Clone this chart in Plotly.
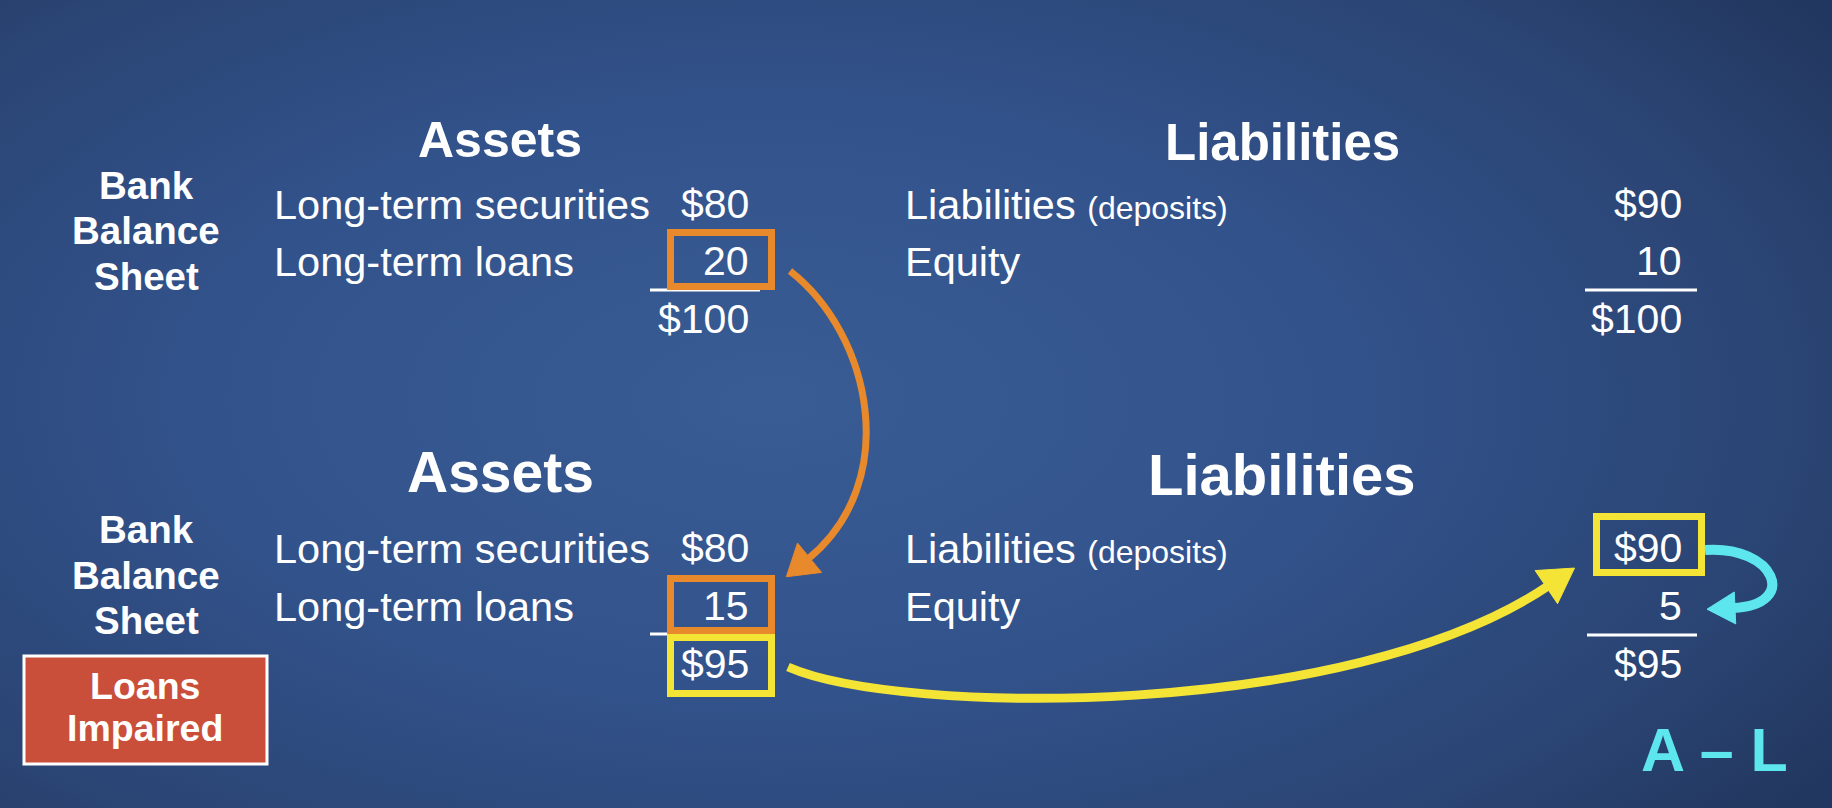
"""Bank balance sheet before/after loan impairment, drawn as a Plotly slide."""

import plotly.graph_objects as go

W, H = 1832, 808
FONT = "Liberation Sans, Arial, sans-serif"

# --- values ---
side_label = ["Bank", "Balance", "Sheet"]
asset_items = ["Long-term securities", "Long-term loans"]
liab_items = ["Liabilities", "Equity"]
liab_note = "(deposits)"

before_assets = ["$80", "20"]
before_assets_total = "$100"
before_liabs = ["$90", "10"]
before_liabs_total = "$100"

after_assets = ["$80", "15"]
after_assets_total = "$95"
after_liabs = ["$90", "5"]
after_liabs_total = "$95"

event_label = ["Loans", "Impaired"]
identity_label = "A \u2013 L"

ORANGE = "#E8892C"
YELLOW = "#F4E435"
CYAN = "#5EE6EE"
RED = "#C94F3A"

fig = go.Figure()

# background: soft radial navy gradient
fig.add_trace(go.Scatter(
    x=[-520, 2060, 2060, -520, -520], y=[-260, -260, 1060, 1060, -260],
    mode="none", fill="toself", hoverinfo="skip", showlegend=False,
    fillgradient=dict(type="radial",
                      colorscale=[[0, "#395C94"], [0.45, "#32528B"], [0.8, "#2A4473"], [1, "#22375F"]]),
))

ann = []


def txt(x, y, s, size, anchor="left", bold=False, color="white"):
    ann.append(dict(x=x, y=y, xref="x", yref="y", text="<b>%s</b>" % s if bold else s,
                    showarrow=False, xanchor=anchor, yanchor="middle",
                    font=dict(family=FONT, size=size, color=color)))


def block(top, title_sz, label_ys, row_ys, assets, a_total, liabs, l_total):
    txt(500, top, "Assets", title_sz, "center", bold=True)
    txt(1282, top + 2, "Liabilities", title_sz + 1, "center", bold=True)
    for y, s in zip(label_ys, side_label):
        txt(146, y, s, 38.5, "center", bold=True)
    for y, item, a, lname, l in zip(row_ys, asset_items, assets, liab_items, liabs):
        txt(272, y, item, 41.5)
        txt(751, y, a, 41, "right")
        if lname == "Liabilities":
            lname = lname + " <span style='font-size:32px'>%s</span>" % liab_note
        txt(903, y, lname, 41.5)
        txt(1684, y, l, 41, "right")
    txt(751, row_ys[1] + 58, a_total, 41, "right")
    txt(1684, row_ys[1] + 58, l_total, 41, "right")


block(140, 50, [185, 230, 276], [204, 261], before_assets, before_assets_total,
      before_liabs, before_liabs_total)
block(472, 57, [529, 575, 620], [548, 606], after_assets, after_assets_total,
      after_liabs, after_liabs_total)

for y, s in zip([686, 728], event_label):
    txt(145, y, s, 37.5, "center", bold=True)
txt(1714, 750, identity_label, 61, "center", bold=True, color=CYAN)

shapes = []


def line(x0, y0, x1, y1, color="white", w=3):
    shapes.append(dict(type="line", xref="x", yref="y", x0=x0, y0=y0, x1=x1, y1=y1,
                       line=dict(color=color, width=w), layer="above"))


def box(x0, y0, x1, y1, color, w=7, fill="rgba(0,0,0,0)"):
    shapes.append(dict(type="rect", xref="x", yref="y", x0=x0 + w / 2, y0=y0 + w / 2,
                       x1=x1 - w / 2, y1=y1 - w / 2, line=dict(color=color, width=w),
                       fillcolor=fill, layer="above"))


def arrow(p, color, w, head_len, head_half):
    # cubic curve p0..p3 and a filled head in the direction of the last segment
    (x0, y0), (x1, y1), (x2, y2), (x3, y3) = p
    shapes.append(dict(type="path", xref="x", yref="y", layer="above",
                       path="M %g,%g C %g,%g %g,%g %g,%g" % (x0, y0, x1, y1, x2, y2, x3, y3),
                       line=dict(color=color, width=w)))
    dx, dy = x3 - x2, y3 - y2
    n = (dx * dx + dy * dy) ** 0.5
    ux, uy = dx / n, dy / n
    tx, ty = x3 + ux * head_len, y3 + uy * head_len
    bx, by = x3 - ux * 2, y3 - uy * 2
    shapes.append(dict(type="path", xref="x", yref="y", layer="above",
                       path="M %g,%g L %g,%g L %g,%g Z" % (tx, ty, bx - uy * head_half, by + ux * head_half,
                                                          bx + uy * head_half, by - ux * head_half),
                       fillcolor=color, line=dict(color=color, width=1)))


# Loans Impaired tag
shapes.append(dict(type="rect", xref="x", yref="y", x0=24, y0=656, x1=267, y1=764,
                   fillcolor=RED, line=dict(color="white", width=3), layer="above"))

# totals rules
line(650, 290, 760, 290)
line(1585, 290, 1697, 290)
line(650, 634, 760, 634)
line(1587, 635, 1697, 635)

# highlight boxes
box(667, 229, 775, 290, ORANGE)
box(667, 575, 775, 634, ORANGE)
box(667, 634, 775, 697, YELLOW)
box(1593, 513, 1705, 576, YELLOW)

# arrows
arrow([(790, 271), (872, 335), (902, 482), (808, 559)], ORANGE, 7, 28, 19)
arrow([(788, 667), (900, 716), (1350, 720), (1548, 586)], YELLOW, 9, 32, 20)
arrow([(1705, 550), (1775, 545), (1800, 605), (1733, 608)], CYAN, 10, 26, 16)

fig.update_layout(
    width=W, height=H,
    margin=dict(l=0, r=0, t=0, b=0),
    paper_bgcolor="#2A4270", plot_bgcolor="rgba(0,0,0,0)",
    xaxis=dict(range=[0, W], visible=False, fixedrange=True),
    yaxis=dict(range=[H, 0], visible=False, fixedrange=True),
    showlegend=False,
    annotations=ann,
    shapes=shapes,
)

fig.write_html("out.html", config={"displayModeBar": False},
               post_script="document.body.style.margin='0';document.body.style.overflow='hidden';")
